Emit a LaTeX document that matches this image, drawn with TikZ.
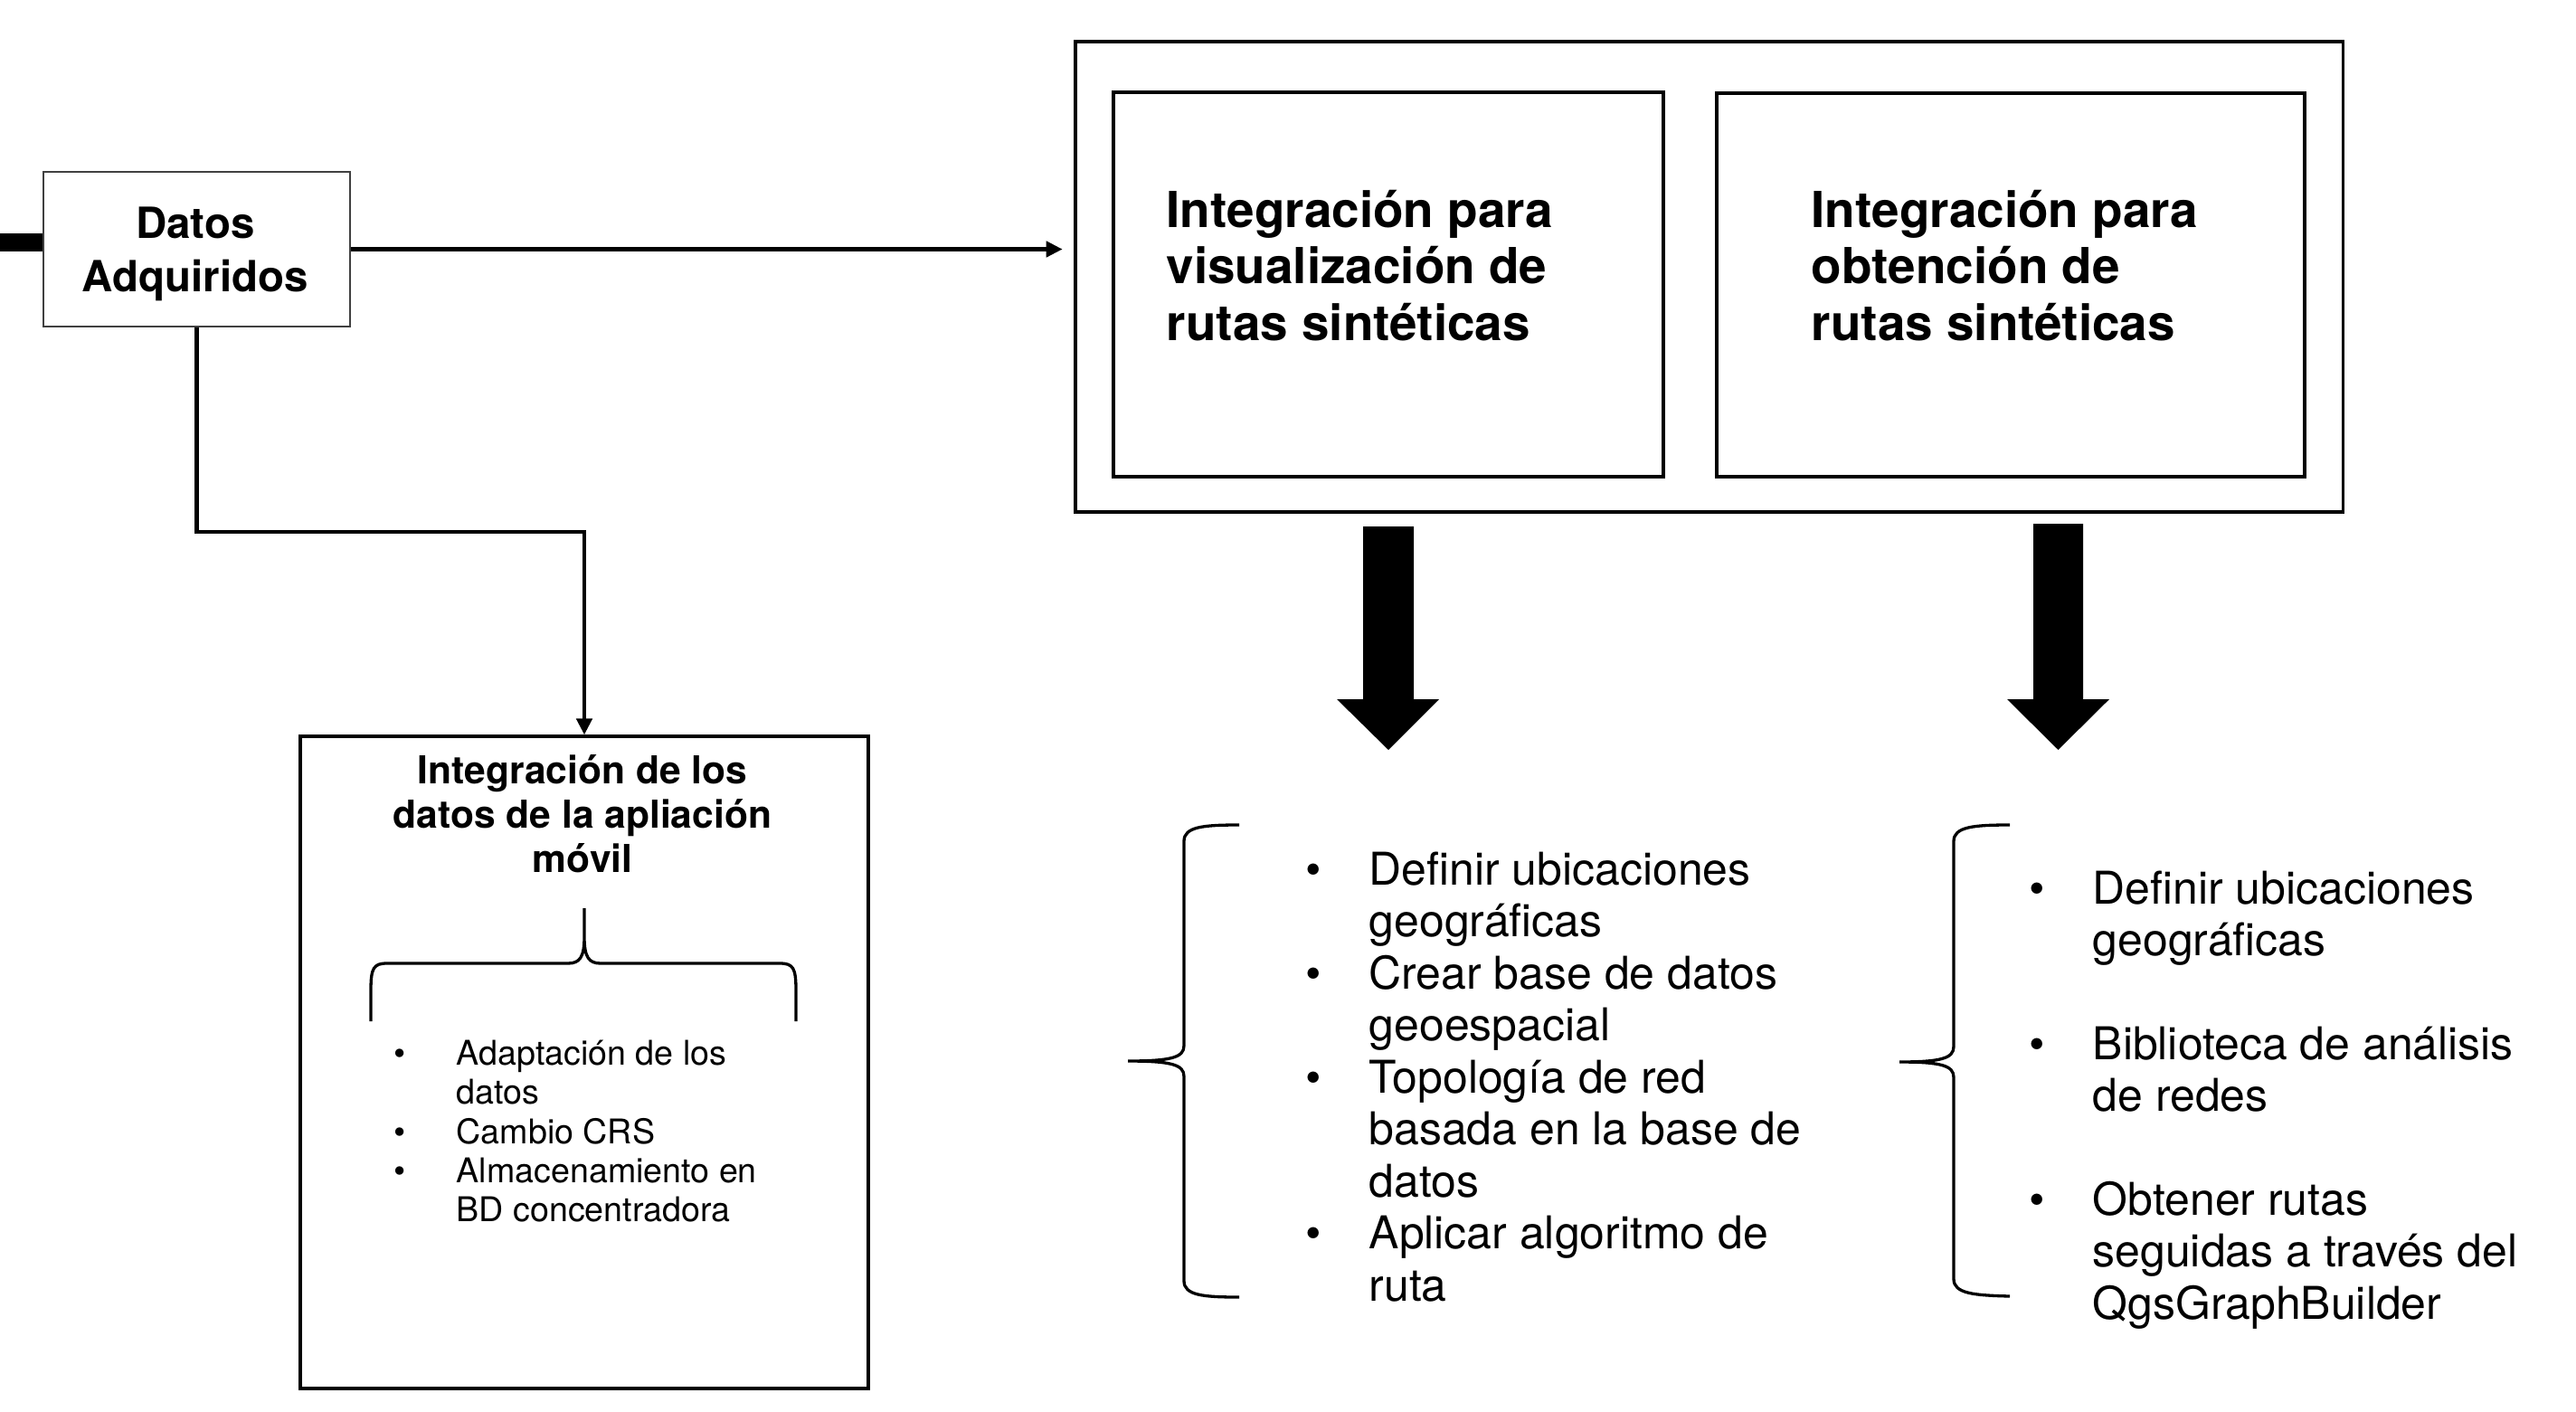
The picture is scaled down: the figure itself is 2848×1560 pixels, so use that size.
\documentclass[tikz,border=0pt]{standalone}
\usepackage{fontspec}
\setmainfont{TeX Gyre Heros}
\usetikzlibrary{arrows.meta}
\newcommand\mylinesl[1]{\begin{tabular}[t]{@{}l@{}}#1\end{tabular}}
\newcommand\mylinesc[1]{\begin{tabular}[t]{@{}c@{}}#1\end{tabular}}
\begin{document}
\begin{tikzpicture}[x=0.01cm,y=-0.01cm,
  box/.style={draw, line width=0.038cm, inner sep=0pt},
  thinbox/.style={draw=black!75, line width=0.015cm, inner sep=0pt},
  conn/.style={line width=0.045cm, -{Triangle[length=0.18cm,width=0.17cm]}},
  bracepath/.style={line width=0.033cm},
  txt/.style={inner sep=0pt, anchor=base west},
  ctxt/.style={inner sep=0pt, anchor=base},
  bigtitle/.style={font=\bfseries\fontsize{15.6}{17.9}\selectfont},
  datosfont/.style={font=\bfseries\fontsize{13.5}{16.8}\selectfont},
  mobtitle/.style={font=\bfseries\fontsize{12.1}{13.95}\selectfont},
  mobitem/.style={font=\fontsize{10.7}{12.38}\selectfont},
  listitem/.style={font=\fontsize{14.2}{16.4}\selectfont},
  bigarrow/.style={fill=black}
]
\useasboundingbox (0,0) rectangle (2848,1560);

% boxes
\node[thinbox, minimum width=3.39cm, minimum height=1.71cm] (datos) at (217.5,275.5) {};
\node[datosfont, ctxt] (datostxt) at (216,263) {\mylinesc{Datos\\Adquiridos}};

\node[box, minimum width=14.01cm, minimum height=5.20cm] (outer) at (1889.5,306) {};
\node[box, minimum width=6.08cm, minimum height=4.24cm] (inner1) at (1535,314.5) {};
\node[box, minimum width=6.50cm, minimum height=4.24cm] (inner2) at (2223,315) {};
\node[bigtitle, txt] (t1) at (1289,251) {\mylinesl{Integración para\\visualización de\\rutas sintéticas}};
\node[bigtitle, txt] (t2) at (2002,251) {\mylinesl{Integración para\\obtención de\\rutas sintéticas}};

\node[box, minimum width=6.28cm, minimum height=7.205cm] (mobile) at (646,1174.75) {};
\node[mobtitle, ctxt] (mobtxt) at (644,866) {\mylinesc{Integración de los\\datos de la apliación\\móvil}};

% connectors
\coordinate (stubL) at (0,268);
\draw[line width=0.2cm] (stubL) -- (stubL -| datos.west);
\draw[conn, shorten >=0.12cm] (datos.east) -- (datos.east -| outer.west);
\coordinate (bend) at (646,588);
\draw[conn] (datos.south) |- (bend) -- (mobile.north);

% big arrows
\fill[bigarrow] (1507,582) -- (1563,582) -- (1563,773) -- (1591,773) -- (1535,829) -- (1478,773) -- (1507,773) -- cycle;
\fill[bigarrow] (2248,579) -- (2303,579) -- (2303,773) -- (2332,773) -- (2275.5,829) -- (2219,773) -- (2248,773) -- cycle;

% braces
\draw[bracepath] (1370,912) .. controls (1330,912) and (1309,914) .. (1309,930) -- (1309,1156) .. controls (1309,1169) and (1295,1173) .. (1247,1173) .. controls (1295,1173) and (1309,1177) .. (1309,1190) -- (1309,1416) .. controls (1309,1432) and (1330,1434) .. (1370,1434);
\draw[bracepath] (2222,912) .. controls (2182,912) and (2160,914) .. (2160,930) -- (2160,1157) .. controls (2160,1170) and (2146,1174) .. (2100,1174) .. controls (2146,1174) and (2160,1178) .. (2160,1191) -- (2160,1414) .. controls (2160,1430) and (2182,1432) .. (2222,1433);
\draw[bracepath] (410,1129) -- (410,1095) .. controls (410,1070) and (413,1065) .. (428,1065) -- (628,1065) .. controls (641,1065) and (646,1058) .. (646,1036) -- (646,1004)
  (646,1036) .. controls (646,1058) and (651,1065) .. (664,1065) -- (862,1065) .. controls (877,1065) and (880,1070) .. (880,1095) -- (880,1129);

% mobile list
\node[mobitem, ctxt] (mb1) at (442,1177) {•};
\node[mobitem, txt] (mi1) at (504,1177) {\mylinesl{Adaptación de los\\datos}};
\node[mobitem, ctxt] (mb2) at (442,1264) {•};
\node[mobitem, txt] (mi2) at (504,1264) {\mylinesl{Cambio CRS}};
\node[mobitem, ctxt] (mb3) at (442,1307) {•};
\node[mobitem, txt] (mi3) at (504,1307) {\mylinesl{Almacenamiento en\\BD concentradora}};

% left list
\node[listitem, ctxt] (lb1) at (1452,978) {•};
\node[listitem, txt] (li1) at (1513,978) {\mylinesl{Definir ubicaciones\\geográficas}};
\node[listitem, ctxt] (lb2) at (1452,1093) {•};
\node[listitem, txt] (li2) at (1513,1093) {\mylinesl{Crear base de datos\\geoespacial}};
\node[listitem, ctxt] (lb3) at (1452,1208) {•};
\node[listitem, txt] (li3) at (1513,1208) {\mylinesl{Topología de red\\basada en la base de\\datos}};
\node[listitem, ctxt] (lb4) at (1452,1380.5) {•};
\node[listitem, txt] (li4) at (1513,1380.5) {\mylinesl{Aplicar algoritmo de\\ruta}};

% right list
\node[listitem, ctxt] (rb1) at (2252,999) {•};
\node[listitem, txt] (ri1) at (2313,999) {\mylinesl{Definir ubicaciones\\geográficas}};
\node[listitem, ctxt] (rb2) at (2252,1171) {•};
\node[listitem, txt] (ri2) at (2313,1171) {\mylinesl{Biblioteca de análisis\\de redes}};
\node[listitem, ctxt] (rb3) at (2252,1343) {•};
\node[listitem, txt] (ri3) at (2313,1343) {\mylinesl{Obtener rutas\\seguidas a través del\\QgsGraphBuilder}};
\end{tikzpicture}
\end{document}
